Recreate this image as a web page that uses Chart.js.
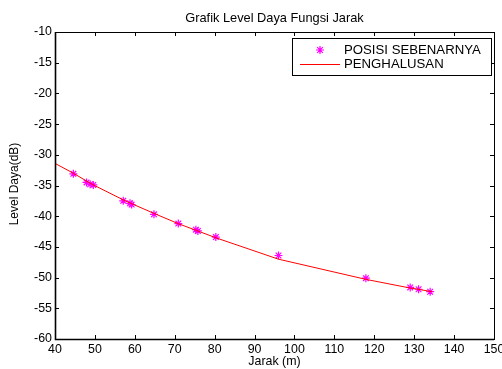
<!DOCTYPE html>
<html><head><meta charset="utf-8">
<script src="https://cdn.jsdelivr.net/npm/chart.js@4.4.1/dist/chart.umd.min.js"></script>
<style>html,body{margin:0;padding:0;background:#fff;}#wrap{width:502px;height:369px;position:relative}</style>
</head><body><div id="wrap"><canvas id="c" width="502" height="369"></canvas></div>
<script>
const chartTitle = 'Grafik Level Daya Fungsi Jarak';
const xTitle = 'Jarak (m)';
const yTitle = 'Level Daya(dB)';
const seriesNames = ['POSISI SEBENARNYA', 'PENGHALUSAN'];

const measuredX = [44.6, 47.9, 48.8, 49.6, 57.1, 58.8, 59.2, 64.8, 70.9, 75.3, 75.8, 80.3, 96.0, 117.9, 129.0, 131.1, 134.0];
const measuredY = [-33.1, -34.5, -34.8, -34.9, -37.5, -37.9, -38.1, -39.7, -41.2, -42.2, -42.4, -43.4, -46.4, -50.1, -51.6, -51.9, -52.3];

const smoothX = [40, 44.6, 48.5, 49.5, 57.5, 59, 64.8, 71, 75.5, 80.5, 96, 118, 129, 131, 134.5];
const smoothY = [-31.4, -33.0, -34.5, -34.87, -37.47, -37.9, -39.54, -41.24, -42.34, -43.56, -47.0, -50.3, -51.7, -51.9, -52.3];

const xTicks = [40, 50, 60, 70, 80, 90, 100, 110, 120, 130, 140, 150];
const yTicks = [-10, -15, -20, -25, -30, -35, -40, -45, -50, -55, -60];

const FONT = "'Liberation Sans', Arial, Helvetica, sans-serif";
Chart.defaults.font.family = FONT;
Chart.defaults.font.size = 12.4;
Chart.defaults.color = '#000';

function drawStar(ctx, x, y, r) {
  ctx.beginPath();
  ctx.moveTo(x - r, y); ctx.lineTo(x + r, y);
  ctx.moveTo(x, y - r); ctx.lineTo(x, y + r);
  const d = r * Math.SQRT1_2;
  ctx.moveTo(x - d, y - d); ctx.lineTo(x + d, y + d);
  ctx.moveTo(x - d, y + d); ctx.lineTo(x + d, y - d);
  ctx.stroke();
}

const framePlugin = {
  id: 'frame',
  afterDraw(chart) {
    const ctx = chart.ctx;
    const a = chart.chartArea;
    const xs = chart.scales.x, ys = chart.scales.y;
    ctx.save();
    ctx.strokeStyle = '#000';
    ctx.lineWidth = 1;
    ctx.strokeRect(a.left + 0.5, a.top + 0.5, a.right - a.left, a.bottom - a.top);
    ctx.lineWidth = 1.6;
    ctx.beginPath();
    ctx.moveTo(a.left + 0.5, a.top); ctx.lineTo(a.left + 0.5, a.bottom + 0.5); ctx.lineTo(a.right, a.bottom + 0.5);
    ctx.stroke();
    ctx.lineWidth = 1;
    ctx.beginPath();
    xTicks.forEach(v => {
      const p = Math.round(xs.getPixelForValue(v)) + 0.5;
      ctx.moveTo(p, a.bottom); ctx.lineTo(p, a.bottom - 4);
      ctx.moveTo(p, a.top); ctx.lineTo(p, a.top + 4);
    });
    yTicks.forEach(v => {
      const p = Math.round(ys.getPixelForValue(v)) + 0.5;
      ctx.moveTo(a.left, p); ctx.lineTo(a.left + 4, p);
      ctx.moveTo(a.right, p); ctx.lineTo(a.right - 4, p);
    });
    ctx.stroke();

    // titles
    ctx.fillStyle = '#000';
    ctx.textAlign = 'center';
    ctx.textBaseline = 'middle';
    const cx = (a.left + a.right) / 2;
    ctx.font = '12.8px ' + FONT;
    ctx.fillText(chartTitle, cx, 18);
    ctx.font = '12.4px ' + FONT;
    ctx.fillText(xTitle, cx, 362);
    ctx.save();
    ctx.translate(15, 184);
    ctx.rotate(-Math.PI / 2);
    ctx.font = '12px ' + FONT;
    ctx.fillText(yTitle, 0, 0);
    ctx.restore();

    // legend
    ctx.fillStyle = '#fff';
    ctx.fillRect(292, 38, 200, 38);
    ctx.strokeStyle = '#000';
    ctx.lineWidth = 1;
    ctx.strokeRect(292.5, 38.5, 199, 37);
    ctx.strokeStyle = '#ff00ff';
    ctx.lineWidth = 1.2;
    drawStar(ctx, 320, 50, 4);
    ctx.strokeStyle = '#ff0000';
    ctx.lineWidth = 1;
    ctx.beginPath();
    ctx.moveTo(300, 64.5); ctx.lineTo(340, 64.5);
    ctx.stroke();
    ctx.fillStyle = '#000';
    ctx.textAlign = 'left';
    ctx.font = '13.2px ' + FONT;
    ctx.fillText(seriesNames[0], 344, 50);
    ctx.fillText(seriesNames[1], 344, 64);
    ctx.restore();
  }
};

new Chart(document.getElementById('c'), {
  type: 'scatter',
  data: {
    datasets: [
      {
        label: seriesNames[1],
        data: smoothX.map((x, i) => ({ x, y: smoothY[i] })),
        showLine: true,
        borderColor: '#ff0000',
        borderWidth: 1,
        pointRadius: 0,
        fill: false,
        tension: 0,
        order: 0
      },
      {
        label: seriesNames[0],
        data: measuredX.map((x, i) => ({ x, y: measuredY[i] })),
        showLine: false,
        pointStyle: 'star',
        pointRadius: 4,
        borderColor: '#ff00ff',
        backgroundColor: '#ff00ff',
        pointBorderWidth: 1.2,
        order: 1
      }
    ]
  },
  options: {
    responsive: false,
    devicePixelRatio: 1,
    animation: false,
    layout: { padding: { top: 32, right: 8, left: 0, bottom: 0 } },
    plugins: { legend: { display: false }, title: { display: false }, tooltip: { enabled: false } },
    scales: {
      x: {
        type: 'linear', min: 40, max: 150,
        afterBuildTicks: s => { s.ticks = xTicks.map(v => ({ value: v })); },
        afterFit: s => { s.height = 30; s.paddingLeft = 0; s.paddingRight = 0; },
        grid: { display: true, drawOnChartArea: false, drawTicks: false, color: 'rgba(0,0,0,0)' },
        border: { display: false },
        ticks: { padding: 3.5, maxRotation: 0, autoSkip: false, color: '#000', font: { size: 12.4 } }
      },
      y: {
        type: 'linear', min: -60, max: -10,
        afterBuildTicks: s => { s.ticks = yTicks.map(v => ({ value: v })); },
        afterFit: s => { s.width = 55; s.paddingTop = 0; s.paddingBottom = 0; },
        grid: { display: true, drawOnChartArea: false, drawTicks: false, color: 'rgba(0,0,0,0)' },
        border: { display: false },
        ticks: { padding: 3, autoSkip: false, color: '#000', font: { size: 12.4 } }
      }
    }
  },
  plugins: [framePlugin]
});
</script>
</body></html>
